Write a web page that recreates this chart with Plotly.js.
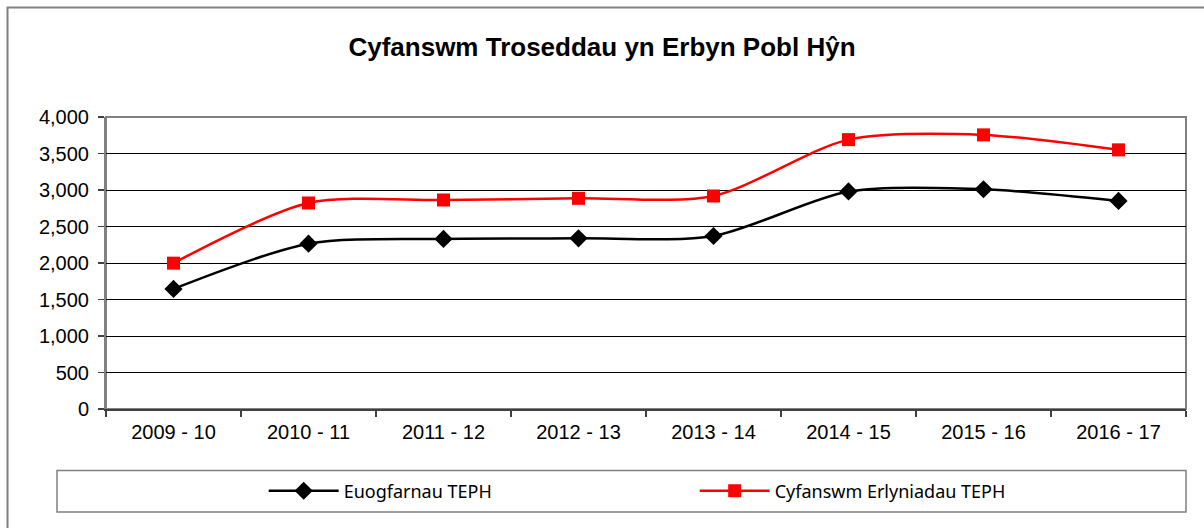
<!DOCTYPE html>
<html>
<head>
<meta charset="utf-8">
<script src="https://cdn.plot.ly/plotly-3.0.1.min.js"></script>
<style>html,body{margin:0;padding:0;background:#fff;}#chart{width:1204px;height:528px;}</style>
</head>
<body>
<div id="chart"></div>
<script>
var categories = ["2009 - 10", "2010 - 11", "2011 - 12", "2012 - 13", "2013 - 14", "2014 - 15", "2015 - 16", "2016 - 17"];
var convictions = [1645, 2265, 2330, 2338, 2370, 2980, 3010, 2850];
var prosecutions = [1998, 2822, 2863, 2886, 2918, 3690, 3755, 3550];
var seriesNames = ["Euogfarnau TEPH", "Cyfanswm Erlyniadau TEPH"];
var chartTitle = "Cyfanswm Troseddau yn Erbyn Pobl Hŷn";
var yTickVals = [0, 500, 1000, 1500, 2000, 2500, 3000, 3500, 4000];
var yTickText = ["0", "500", "1,000", "1,500", "2,000", "2,500", "3,000", "3,500", "4,000"];

var traces = [
  {x: categories, y: convictions, name: seriesNames[0], type: "scatter", mode: "lines+markers",
   line: {color: "#000000", width: 2.5, shape: "spline", smoothing: 0.8},
   marker: {symbol: "diamond", size: 14, color: "#000000"}},
  {x: categories, y: prosecutions, name: seriesNames[1], type: "scatter", mode: "lines+markers",
   line: {color: "#FF0000", width: 2.5, shape: "spline", smoothing: 0.8},
   marker: {symbol: "square", size: 13, color: "#FF0000"}}
];

var layout = {
  width: 1204, height: 528,
  margin: {l: 106, r: 18, t: 117, b: 119},
  paper_bgcolor: "#ffffff", plot_bgcolor: "#ffffff",
  showlegend: true,
  title: {text: chartTitle, x: 0.5, xanchor: "center", y: 1 - 47/528, yanchor: "middle",
          font: {family: "'Liberation Sans', Arial, sans-serif", size: 26, color: "#000", weight: "bold"}},
  font: {family: "'Liberation Sans', Arial, sans-serif", size: 20, color: "#000"},
  xaxis: {type: "category", tickson: "boundaries", ticks: "outside", ticklen: 6, tickcolor: "#404040", tickwidth: 1.5,
          showline: true, linecolor: "#404040", linewidth: 2, mirror: false, showgrid: false, zeroline: false,
          fixedrange: true, tickfont: {size: 20}, ticklabelstandoff: 4, range: [-0.5, 7.5]},
  yaxis: {range: [0, 4000], tickvals: yTickVals, ticktext: yTickText, ticks: "outside", ticklen: 6,
          tickcolor: "#404040", tickwidth: 1.5, showline: true, linecolor: "#808080", linewidth: 2, mirror: false,
          showgrid: true, gridcolor: "#000000", gridwidth: 1, zeroline: false, tickfont: {size: 20},
          ticklabelstandoff: 5, fixedrange: true},
  legend: {orientation: "h", x: 0.146, xanchor: "left", y: -0.281, yanchor: "middle",
           font: {family: "'Noto Sans', sans-serif", size: 18, color: "#000"},
           bgcolor: "rgba(0,0,0,0)", borderwidth: 0, itemwidth: 70, entrywidth: 346, traceorder: "normal"},
  shapes: [
    {type: "rect", xref: "paper", yref: "paper", x0: 0, x1: 1, y0: 0, y1: 1,
     line: {color: "#808080", width: 2}, fillcolor: "rgba(0,0,0,0)", layer: "below"},
    {type: "rect", xref: "paper", yref: "paper", x0: (7.5-106)/1080, x1: 1.05, y0: -0.45, y1: (409-7.5)/292,
     line: {color: "#808080", width: 2}, fillcolor: "rgba(0,0,0,0)"},
    {type: "rect", xref: "paper", yref: "paper", x0: (57-106)/1080, x1: 1, y0: (409-512)/292, y1: (409-470.5)/292,
     line: {color: "#808080", width: 1.5}, fillcolor: "rgba(0,0,0,0)"}
  ]
};

Plotly.newPlot("chart", traces, layout, {displayModeBar: false, staticPlot: true});
</script>
</body>
</html>
